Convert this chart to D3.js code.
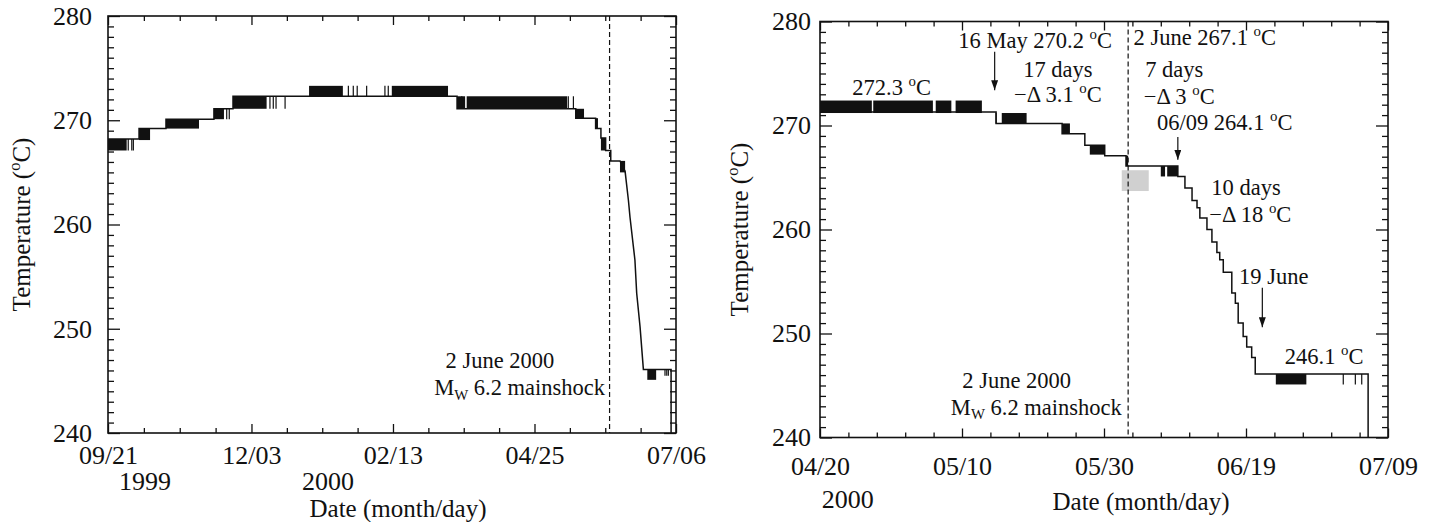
<!DOCTYPE html>
<html lang="en">
  <head>
    <meta charset="utf-8" />
    <script src="https://d3js.org/d3.v7.min.js"></script>
    <style>
      body { margin: 0; background: #fff; }
      svg text { font-family: 'Liberation Serif', 'DejaVu Serif', serif; }
    </style>
  </head>
  <body>
    <svg id="chart" width="1435" height="522"></svg>
    <script>
      // shared temperature axis
      const tempTicks = [240, 250, 260, 270, 280];

      // left panel: x is days since 1999-09-21
      const leftTickDays = [0, 73, 145, 217, 289];
      const leftTickLabels = ['09/21', '12/03', '02/13', '04/25', '07/06'];
      const leftYears = [[18.8, '1999'], [111.9, '2000']];
      // steady level, [day, temp], joined straight
      const leftLine = [
        [0, 268.2], [15.8, 268.2], [15.8, 269.2], [29.5, 269.2], [29.5, 270.1],
        [53.9, 270.1], [53.9, 271.1], [63.6, 271.1], [63.6, 272.3], [177.6, 272.3],
        [177.6, 271.1], [238, 271.1], [238, 270.2], [248.1, 270.2], [248.1, 269.2],
        [250.8, 269.2], [250.8, 268.3], [253.2, 268.3], [253.2, 267.1], [255.8, 267.1],
        [255.8, 266.1], [260.5, 266.1], [263.1, 265.1], [264.8, 262.3], [265.6, 260.7],
        [267.3, 257.9], [268.1, 256.6], [269.0, 253.4], [270.7, 250.2], [272.4, 246.1],
        [286.5, 246.1], [286.5, 240]
      ];
      // dense flicker between two levels: [day0, day1, low, high]
      const leftBands = [
        [0, 9.5, 267.1, 268.2],
        [15.8, 21.4, 268.1, 269.2],
        [29.5, 46.3, 269.2, 270.1],
        [53.9, 59.0, 270.1, 271.1],
        [63.6, 80.7, 271.1, 272.3],
        [102.3, 119.5, 272.3, 273.3],
        [144.4, 173.0, 272.3, 273.3],
        [177.6, 181.7, 271.1, 272.3],
        [182.5, 233.6, 271.1, 272.3],
        [238.0, 242.2, 270.2, 271.1],
        [248.1, 249.3, 269.2, 270.2],
        [250.8, 253.2, 267.1, 268.3],
        [260.5, 263.1, 265.0, 266.1],
        [274.4, 278.9, 245.1, 246.1]
      ];
      // single readings off the level: [day, low, high]
      const leftSpikes = [
        [10.3, 267.1, 268.2], [12.1, 267.1, 268.2], [12.9, 267.1, 268.2],
        [60.4, 270.1, 271.1], [61.7, 270.1, 271.1],
        [82.4, 271.1, 272.3], [84.1, 271.1, 272.3], [85.5, 271.1, 272.3], [90.1, 271.1, 272.3],
        [122.3, 272.3, 273.3], [124.8, 272.3, 273.3], [126.8, 272.3, 273.3],
        [131.6, 272.3, 273.3], [140.9, 272.3, 273.3], [142.6, 272.3, 273.3],
        [180.0, 271.1, 272.3], [234.2, 271.1, 272.3], [236.8, 271.1, 272.3],
        [283.4, 245.5, 246.1], [284.3, 245.5, 246.1], [285.1, 245.5, 246.1]
      ];
      const leftQuakeDay = 255.2;

      // right panel: x is days since 2000-04-20
      const rightTickDays = [0, 20, 40, 60, 80];
      const rightTickLabels = ['04/20', '05/10', '05/30', '06/19', '07/09'];
      const rightYears = [[3.9, '2000']];
      // step series, [day, temp] holds until next point
      const rightSteps = [
        [0, 271.3], [24.8, 270.2], [34.1, 269.2], [37.3, 268.1], [40.1, 267.1],
        [43.1, 266.1], [50.4, 265.1], [51.4, 264.0], [52.4, 262.8], [53.1, 262.1],
        [53.5, 261.1], [54.5, 260.0], [55.2, 258.8], [55.9, 257.8], [56.3, 257.1],
        [56.8, 255.9], [58.0, 253.9], [58.5, 252.9], [58.9, 251.0], [59.6, 249.7],
        [60.1, 248.7], [60.8, 247.7], [61.3, 246.1], [77.2, 240]
      ];
      const rightBands = [
        [0, 7.3, 271.2, 272.4], [7.5, 15.9, 271.2, 272.4],
        [16.3, 18.5, 271.2, 272.4], [19.1, 22.8, 271.2, 272.4],
        [25.6, 29.1, 270.2, 271.2],
        [34.1, 35.2, 269.2, 270.2],
        [38.0, 40.1, 267.2, 268.1],
        [43.1, 43.4, 266.1, 267.1],
        [48.0, 48.6, 265.1, 266.1], [48.9, 50.4, 265.1, 266.1],
        [64.2, 68.5, 245.1, 246.1]
      ];
      const rightSpikes = [
        [24.8, 270.2, 271.2],
        [73.7, 245.1, 246.1], [75.4, 245.1, 246.1], [76.3, 245.1, 246.1]
      ];
      const rightShade = [[42.5, 46.3, 263.7, 265.7]];
      const rightQuakeDay = 43.4;

      // {x} = superscript, [x] = subscript
      const leftNotes = [
        { d: 199.4, t: 246.2, text: '2 June 2000', anchor: 'middle' },
        { d: 252.9, t: 243.6, text: 'M[W] 6.2 mainshock', anchor: 'end' }
      ];
      const rightNotes = [
        { d: 10.1, t: 272.9, text: '272.3 {o}C', anchor: 'middle' },
        { d: 30.3, t: 277.5, text: '16 May 270.2 {o}C', anchor: 'middle' },
        { d: 33.5, t: 274.7, text: '17 days', anchor: 'middle' },
        { d: 33.5, t: 272.3, text: '\u2212\u0394 3.1 {o}C', anchor: 'middle' },
        { d: 54.2, t: 277.7, text: '2 June 267.1 {o}C', anchor: 'middle' },
        { d: 49.9, t: 274.7, text: '7 days', anchor: 'middle' },
        { d: 50.6, t: 272.1, text: '\u2212\u0394 3 {o}C', anchor: 'middle' },
        { d: 57.0, t: 269.6, text: '06/09 264.1 {o}C', anchor: 'middle' },
        { d: 60.0, t: 263.3, text: '10 days', anchor: 'middle' },
        { d: 60.6, t: 260.75, text: '\u2212\u0394 18 {o}C', anchor: 'middle' },
        { d: 63.9, t: 254.8, text: '19 June', anchor: 'middle' },
        { d: 71.0, t: 247.1, text: '246.1 {o}C', anchor: 'middle' },
        { d: 27.7, t: 244.8, text: '2 June 2000', anchor: 'middle' },
        { d: 42.5, t: 242.2, text: 'M[W] 6.2 mainshock', anchor: 'end' }
      ];
      // [day, fromTemp, toTemp]
      const rightArrows = [[24.6, 277.1, 273.4], [50.4, 268.9, 266.7], [62.3, 254.4, 250.6]];

      const svg = d3.select('#chart').attr('font-family', "'Liberation Serif', 'DejaVu Serif', serif");
      const ink = '#111';
      const serif = "'Liberation Serif', 'DejaVu Serif', serif";

      svg.append('defs').append('marker')
        .attr('id', 'head')
        .attr('viewBox', '0 0 10 7')
        .attr('refX', 10).attr('refY', 3.5)
        .attr('markerWidth', 10).attr('markerHeight', 7)
        .attr('markerUnits', 'userSpaceOnUse')
        .attr('orient', 'auto')
        .append('path').attr('d', 'M0,0 L10,3.5 L0,7 z').attr('fill', ink);

      function richText(g, x, y, str, size, anchor) {
        const t = g.append('text')
          .attr('x', x).attr('y', y)
          .attr('font-family', serif)
          .attr('font-size', size)
          .attr('text-anchor', anchor || 'start')
          .attr('fill', ink);
        let shift = 0;
        str.split(/(\{[^}]*\}|\[[^\]]*\])/).filter(s => s).forEach(s => {
          let target = 0, txt = s, small = false;
          if (s[0] === '{') { target = -0.4 * size; txt = s.slice(1, -1); small = true; }
          else if (s[0] === '[') { target = 0.2 * size; txt = s.slice(1, -1); small = true; }
          t.append('tspan')
            .attr('dy', target - shift)
            .attr('font-size', small ? size * 0.66 : size)
            .text(txt);
          shift = target;
        });
        return t;
      }

      function drawPanel(p) {
        const g = svg.append('g');
        const x = d3.scaleLinear().domain(p.xDomain).range([p.left, p.right]);
        const y = d3.scaleLinear().domain([240, 280]).range([p.bottom, p.top]);

        const xMinor = [];
        p.xTicks.forEach((d, i) => {
          if (i === p.xTicks.length - 1) return;
          for (let k = 1; k < p.xSub; k++) xMinor.push(d + (p.xTicks[i + 1] - d) * k / p.xSub);
        });
        const xAll = p.xTicks.concat(xMinor);
        const yAll = d3.range(240, 281, 1);
        const isMajorX = d => p.xTicks.includes(d);
        const isMajorY = d => tempTicks.includes(d);

        function styleAxis(a) {
          a.attr('font-size', null).attr('font-family', serif);
          a.select('.domain').remove();
          a.selectAll('.tick line').attr('stroke', ink).attr('stroke-width', 1.3);
          a.selectAll('.tick text').attr('fill', ink).attr('font-size', 26).attr('font-family', serif);
        }

        // bottom
        const ab = g.append('g').attr('transform', `translate(0,${p.bottom})`)
          .call(d3.axisBottom(x).tickValues(xAll).tickSize(-9).tickSizeOuter(0).tickPadding(p.xPad)
            .tickFormat(d => { const i = p.xTicks.indexOf(d); return i >= 0 ? p.xLabels[i] : ''; }));
        styleAxis(ab);
        ab.selectAll('.tick line').attr('y2', d => isMajorX(d) ? -9 : -5);

        // top
        const at = g.append('g').attr('transform', `translate(0,${p.top})`)
          .call(d3.axisTop(x).tickValues(xAll).tickSize(-9).tickSizeOuter(0).tickFormat(''));
        styleAxis(at);
        at.selectAll('.tick line').attr('y2', d => isMajorX(d) ? 9 : 5);

        // left
        const al = g.append('g').attr('transform', `translate(${p.left},0)`)
          .call(d3.axisLeft(y).tickValues(yAll).tickSize(-12).tickSizeOuter(0).tickPadding(p.yPad)
            .tickFormat(d => isMajorY(d) ? d : ''));
        styleAxis(al);
        al.selectAll('.tick line').attr('x2', d => isMajorY(d) ? 12 : 6);

        // right
        const ar = g.append('g').attr('transform', `translate(${p.right},0)`)
          .call(d3.axisRight(y).tickValues(yAll).tickSize(-12).tickSizeOuter(0).tickFormat(''));
        styleAxis(ar);
        ar.selectAll('.tick line').attr('x2', d => isMajorY(d) ? -12 : -6);

        // frame
        g.append('rect')
          .attr('x', p.left).attr('y', p.top)
          .attr('width', p.right - p.left).attr('height', p.bottom - p.top)
          .attr('fill', 'none').attr('stroke', ink).attr('stroke-width', 1.6);

        // shaded box
        g.selectAll('rect.shade').data(p.shade || []).join('rect').attr('class', 'shade')
          .attr('x', d => x(d[0])).attr('width', d => x(d[1]) - x(d[0]))
          .attr('y', d => y(d[3])).attr('height', d => y(d[2]) - y(d[3]))
          .attr('fill', '#d0d0d0');

        // mainshock line
        g.append('line')
          .attr('x1', x(p.quake)).attr('x2', x(p.quake))
          .attr('y1', p.top).attr('y2', p.bottom)
          .attr('stroke', ink).attr('stroke-width', 1.2)
          .attr('stroke-dasharray', '5,3');

        // flicker bands
        g.selectAll('rect.band').data(p.bands).join('rect').attr('class', 'band')
          .attr('x', d => x(d[0])).attr('width', d => Math.max(1, x(d[1]) - x(d[0])))
          .attr('y', d => y(d[3])).attr('height', d => y(d[2]) - y(d[3]))
          .attr('fill', ink);

        g.selectAll('line.spike').data(p.spikes).join('line').attr('class', 'spike')
          .attr('x1', d => x(d[0])).attr('x2', d => x(d[0]))
          .attr('y1', d => y(d[2])).attr('y2', d => y(d[1]))
          .attr('stroke', ink).attr('stroke-width', 1.2);

        // level line
        g.append('path')
          .datum(p.line)
          .attr('fill', 'none').attr('stroke', ink).attr('stroke-width', 1.5)
          .attr('d', d3.line().x(d => x(d[0])).y(d => y(d[1])).curve(p.curve));

        // arrows
        g.selectAll('line.arrow').data(p.arrows || []).join('line').attr('class', 'arrow')
          .attr('x1', d => x(d[0])).attr('x2', d => x(d[0]))
          .attr('y1', d => y(d[1])).attr('y2', d => y(d[2]))
          .attr('stroke', ink).attr('stroke-width', 1.2)
          .attr('marker-end', 'url(#head)');

        // notes
        p.notes.forEach(n => richText(g, x(n.d), y(n.t), n.text, 22.5, n.anchor));

        // years
        p.years.forEach(v => richText(g, x(v[0]), p.yearY, v[1], 26, 'middle'));

        // axis titles
        richText(g, p.titleX, p.titleY, 'Date (month/day)', 25, 'middle');
        richText(g, 0, 0, 'Temperature ({o}C)', 25, 'middle')
          .attr('transform', `translate(${p.yTitleX},${(p.top + p.bottom) / 2}) rotate(-90)`);
      }

      drawPanel({
        left: 108, right: 676, top: 16, bottom: 433,
        xDomain: [0, 289], xTicks: leftTickDays, xLabels: leftTickLabels, xSub: 4,
        xPad: 13, yPad: 16,
        line: leftLine, curve: d3.curveLinear,
        bands: leftBands, spikes: leftSpikes, quake: leftQuakeDay,
        notes: leftNotes, years: leftYears, yearY: 490,
        titleX: 398, titleY: 517, yTitleX: 30
      });

      drawPanel({
        left: 820, right: 1388, top: 21.5, bottom: 437.5,
        xDomain: [0, 80], xTicks: rightTickDays, xLabels: rightTickLabels, xSub: 5,
        xPad: 19, yPad: 9,
        line: rightSteps, curve: d3.curveStepAfter,
        bands: rightBands, spikes: rightSpikes, quake: rightQuakeDay,
        shade: rightShade, arrows: rightArrows,
        notes: rightNotes, years: rightYears, yearY: 508,
        titleX: 1141, titleY: 510, yTitleX: 748
      });
    </script>
  </body>
</html>
